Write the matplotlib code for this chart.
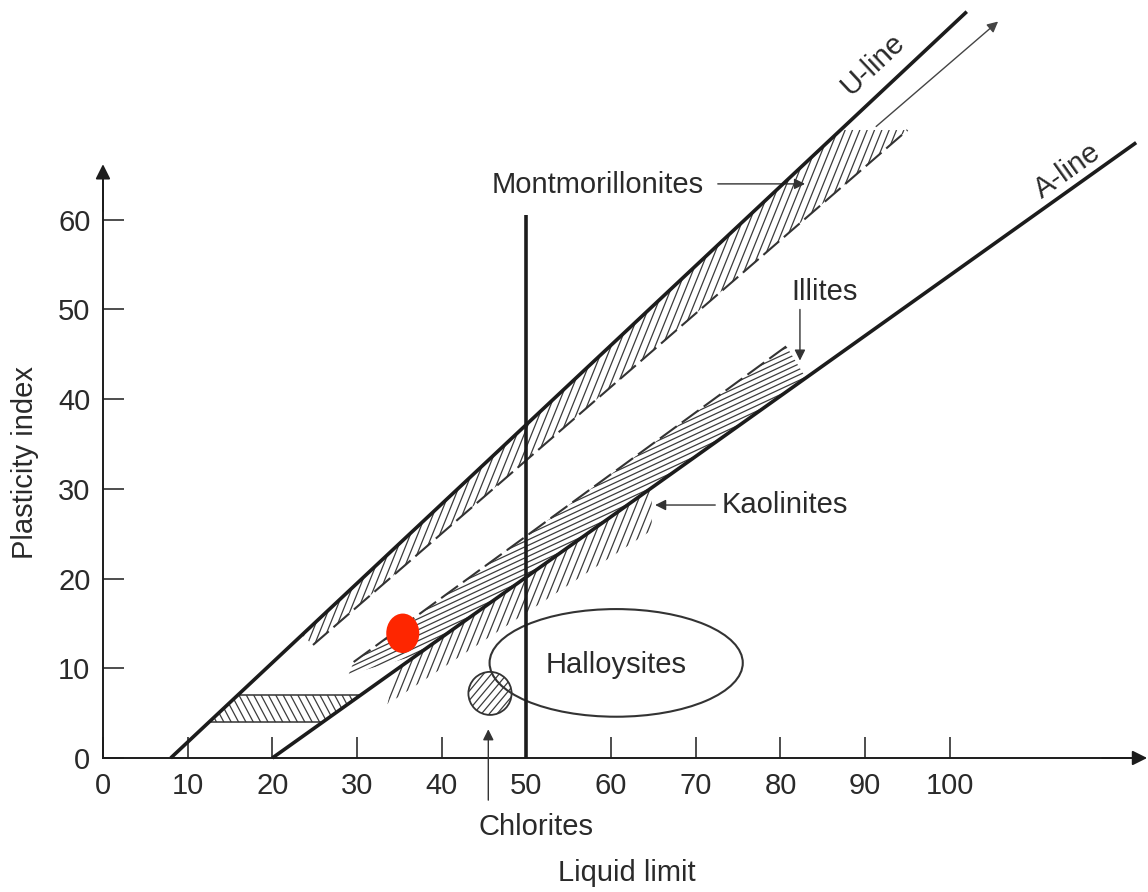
import numpy as np
import matplotlib.pyplot as plt
from matplotlib.patches import Polygon, Ellipse

plt.rcParams['font.family'] = ['Liberation Sans', 'DejaVu Sans']

# U-line and A-line (liquid limit, plasticity index)
u_line_ll = [8, 102]
u_line_pi = [0, 83.2]
a_line_ll = [20, 122]
a_line_pi = [0, 68.6]
divider_ll = 50
divider_top = 60.5

# Montmorillonites: upper edge on the U-line, dashed lower edge
mont_upper_ll = [23.5, 87.1]
mont_lower_ll = [24.8, 95.0]
mont_lower_pi = [12.6, 70.0]

# Illites: lower edge on the A-line, dashed upper edge
illite_foot_ll = [29.0]
illite_foot_pi = [9.3]
illite_base_ll = [37.0, 83.0]
illite_upper_ll = [29.6, 80.7]
illite_upper_pi = [10.7, 45.9]

# Kaolinites: upper edge on the A-line
kaol_upper_ll = [34.4, 64.8]
kaol_lower_ll = [33.6, 64.8]
kaol_lower_pi = [6.0, 25.4]

# low plasticity strip between the two lines
strip_pi = [4.0, 7.0]

# Chlorites and Halloysites (centre LL, centre PI, width, height)
chlorite = [45.7, 7.2, 5.1, 4.8]
halloysite = [60.6, 10.6, 29.9, 12.0]

# tested sample
sample_ll = [35.4]
sample_pi = [13.9]

x_ticks = [0, 10, 20, 30, 40, 50, 60, 70, 80, 90, 100]
y_ticks = [0, 10, 20, 30, 40, 50, 60]


def u_pi(ll):
    return np.interp(ll, u_line_ll, u_line_pi)


def a_pi(ll):
    return np.interp(ll, a_line_ll, a_line_pi)


def hatch(ax, patch, angle, gap, lw=0.9, color='#3c3c3c'):
    # straight hatch lines at a given screen angle, clipped to the patch
    ax.add_patch(patch)
    pts = patch.get_verts()
    t = np.radians(angle)
    d = np.array([np.cos(t), np.sin(t)])
    n = np.array([-d[1], d[0]])
    proj = pts @ n
    along = pts @ d
    inv = ax.transData.inverted()
    for off in np.arange(proj.min() + gap / 2, proj.max(), gap):
        p0 = n * off + d * (along.min() - 5)
        p1 = n * off + d * (along.max() + 5)
        seg = inv.transform([p0, p1])
        ln, = ax.plot(seg[:, 0], seg[:, 1], color=color, lw=lw, zorder=2,
                      solid_capstyle='butt')
        ln.set_clip_path(patch)


fig = plt.figure(figsize=(11.48, 8.92), dpi=100)
ax = fig.add_axes([0, 0, 1, 1])
ax.set_xlim(-12.16, 123.4)
ax.set_ylim(-14.94, 84.5)
ax.patch.set_alpha(0)

ink = '#1c1c1c'
txt = '#2a2a2a'

# axes through the origin
for s in ['top', 'right']:
    ax.spines[s].set_visible(False)
ax.spines['left'].set_position(('data', 0))
ax.spines['bottom'].set_position(('data', 0))
ax.spines['left'].set_bounds(0, 65)
ax.spines['bottom'].set_bounds(0, 122)
for s in ['left', 'bottom']:
    ax.spines[s].set_linewidth(1.4)
    ax.spines[s].set_color(ink)
ax.set_xticks(x_ticks)
ax.set_yticks(y_ticks)
ax.tick_params(direction='in', length=15, width=1.1, color=ink,
               labelsize=21, labelcolor=txt)
ax.tick_params(axis='x', pad=10)
ax.tick_params(axis='y', pad=9)
ax.annotate('', xy=(123.3, 0), xytext=(118, 0),
            arrowprops=dict(arrowstyle='-|>', color=ink, lw=1.4,
                            mutation_scale=22, shrinkA=0, shrinkB=0))
ax.annotate('', xy=(0, 66.2), xytext=(0, 61),
            arrowprops=dict(arrowstyle='-|>', color=ink, lw=1.4,
                            mutation_scale=22, shrinkA=0, shrinkB=0))

# Montmorillonites zone
mont_verts = [(mont_upper_ll[0], u_pi(mont_upper_ll[0])),
              (mont_upper_ll[1], u_pi(mont_upper_ll[1])),
              (mont_lower_ll[1], mont_lower_pi[1]),
              (mont_lower_ll[0], mont_lower_pi[0])]
hatch(ax, Polygon(mont_verts, closed=True, fill=False, edgecolor='none'), 68, 6.8)
ax.plot(mont_lower_ll, mont_lower_pi, color='#333333', lw=1.5,
        linestyle=(0, (10, 3)), zorder=3)

# Illites zone
illite_verts = [(illite_foot_ll[0], illite_foot_pi[0])]
illite_verts += [(x, a_pi(x)) for x in illite_base_ll]
illite_verts += [(illite_upper_ll[1], illite_upper_pi[1]),
                 (illite_upper_ll[0], illite_upper_pi[0])]
hatch(ax, Polygon(illite_verts, closed=True, fill=False, edgecolor='none'), 25, 5.0)
ax.plot(illite_upper_ll, illite_upper_pi, color='#333333', lw=1.5,
        linestyle=(0, (10, 3)), zorder=3)

# Kaolinites zone
kaol_verts = [(kaol_upper_ll[0], a_pi(kaol_upper_ll[0])),
              (kaol_upper_ll[1], a_pi(kaol_upper_ll[1])),
              (kaol_lower_ll[1], kaol_lower_pi[1]),
              (kaol_lower_ll[0], kaol_lower_pi[0])]
hatch(ax, Polygon(kaol_verts, closed=True, fill=False, edgecolor='none'), 68, 6.8)

# strip between U-line and A-line
s_lo, s_hi = strip_pi
strip_verts = [(np.interp(s_lo, u_line_pi, u_line_ll), s_lo),
               (np.interp(s_lo, a_line_pi, a_line_ll), s_lo),
               (np.interp(s_hi, a_line_pi, a_line_ll), s_hi),
               (np.interp(s_hi, u_line_pi, u_line_ll), s_hi)]
hatch(ax, Polygon(strip_verts, closed=True, fill=False, edgecolor='none'), 118, 6.5)
for lvl in strip_pi:
    ax.plot([np.interp(lvl, u_line_pi, u_line_ll), np.interp(lvl, a_line_pi, a_line_ll)],
            [lvl, lvl], color='#333333', lw=1.1, zorder=3)

# Chlorites
cx, cy, cw, ch = chlorite
hatch(ax, Ellipse((cx, cy), cw, ch, fill=False, edgecolor='none'), 50, 6.0)
ax.add_patch(Ellipse((cx, cy), cw, ch, fill=False, edgecolor='#333333', lw=1.3, zorder=3))

# Halloysites
hx, hy, hw, hh = halloysite
ax.add_patch(Ellipse((hx, hy), hw, hh, fill=False, edgecolor='#333333', lw=1.5, zorder=3))
ax.text(hx, hy - 0.2, 'Halloysites', fontsize=21, color=txt, ha='center', va='center')

# main lines
ax.plot(u_line_ll, u_line_pi, color=ink, lw=2.6, zorder=4, solid_capstyle='butt')
ax.plot(a_line_ll, a_line_pi, color=ink, lw=2.6, zorder=4, solid_capstyle='butt')
ax.plot([divider_ll, divider_ll], [0, divider_top], color=ink, lw=2.6, zorder=4,
        solid_capstyle='butt')


def screen_angle(xs, ys):
    p = ax.transData.transform(np.column_stack([xs, ys]))
    return np.degrees(np.arctan2(p[1, 1] - p[0, 1], p[1, 0] - p[0, 0]))


ax.text(90.9, 77.4, 'U-line', fontsize=21, color=txt, ha='center', va='center',
        rotation=screen_angle(u_line_ll, u_line_pi), rotation_mode='anchor')
ax.text(113.9, 65.4, 'A-line', fontsize=21, color=txt, ha='center', va='center',
        rotation=screen_angle(a_line_ll, a_line_pi), rotation_mode='anchor')

# continuation arrow for montmorillonites
ax.annotate('', xy=(105.7, 82.1), xytext=(91.3, 70.4),
            arrowprops=dict(arrowstyle='-|>', color='#444444', lw=1.0,
                            mutation_scale=16, shrinkA=0, shrinkB=0))

# zone labels with pointers
arrow_kw = dict(arrowstyle='-|>', color='#333333', lw=1.0, mutation_scale=16,
                shrinkA=0, shrinkB=0)
ax.text(58.4, 63.9, 'Montmorillonites', fontsize=21, color=txt, ha='center', va='center')
ax.annotate('', xy=(82.9, 64.0), xytext=(72.6, 64.0), arrowprops=arrow_kw)
ax.text(85.2, 52.0, 'Illites', fontsize=21, color=txt, ha='center', va='center')
ax.annotate('', xy=(82.3, 44.3), xytext=(82.3, 50.0), arrowprops=arrow_kw)
ax.text(80.5, 28.2, 'Kaolinites', fontsize=21, color=txt, ha='center', va='center')
ax.annotate('', xy=(65.2, 28.2), xytext=(72.3, 28.2), arrowprops=arrow_kw)
ax.text(51.1, -7.7, 'Chlorites', fontsize=21, color=txt, ha='center', va='center')
ax.annotate('', xy=(45.5, 3.2), xytext=(45.5, -4.7), arrowprops=arrow_kw)

# sample point
for x, y in zip(sample_ll, sample_pi):
    ax.add_patch(Ellipse((x, y), 3.9, 4.4, facecolor='#fe2600', edgecolor='none', zorder=6))

ax.text(61.9, -12.8, 'Liquid limit', fontsize=21, color=txt, ha='center', va='center')
ax.text(-9.2, 32.9, 'Plasticity index', fontsize=21, color=txt, ha='center', va='center',
        rotation=90)

fig.savefig('out.png', dpi=100)
